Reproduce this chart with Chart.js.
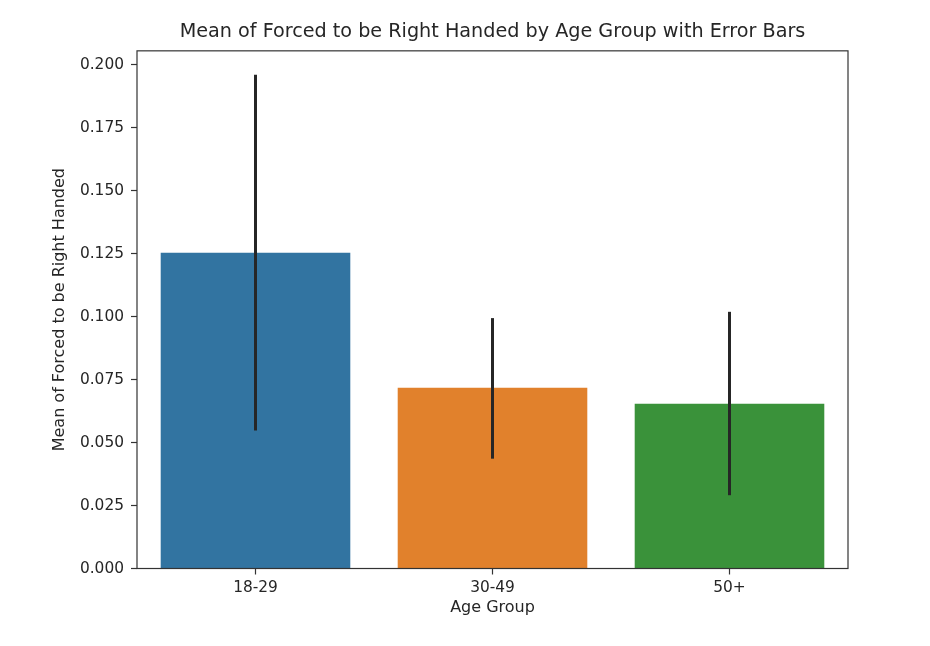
<!DOCTYPE html>
<html>
<head>
<meta charset="utf-8">
<script src="https://cdn.jsdelivr.net/npm/chart.js@4"></script>
<style>
  html, body { margin: 0; padding: 0; background: #fff; }
  #wrap { width: 930px; height: 646px; }
</style>
</head>
<body>
<div id="wrap"><canvas id="chart"></canvas></div>
<script>
const ageGroups = ["18-29", "30-49", "50+"];
const meanValues = [0.1253, 0.0718, 0.0654];
const errLow = [0.0548, 0.0436, 0.0291];
const errHigh = [0.1960, 0.0994, 0.1019];
const barColors = ["#3274a1", "#e1812c", "#3a923a"];

const FONT = "'DejaVu Sans', sans-serif";
const INK = "#262626";

// error bars, drawn through the chart scales
const errorBars = {
  id: "errorBars",
  afterDatasetsDraw(chart) {
    const { ctx, scales: { x, y } } = chart;
    ctx.save();
    ctx.strokeStyle = "#262626";
    ctx.lineWidth = 3;
    ageGroups.forEach((g, i) => {
      const px = x.getPixelForValue(i);
      ctx.beginPath();
      ctx.moveTo(px, y.getPixelForValue(errLow[i]));
      ctx.lineTo(px, y.getPixelForValue(errHigh[i]));
      ctx.stroke();
    });
    ctx.restore();
  }
};

// four spines around the axes box
const frame = {
  id: "frame",
  afterDraw(chart) {
    const { ctx, chartArea: a } = chart;
    ctx.save();
    ctx.strokeStyle = "#333";
    ctx.lineWidth = 1.2;
    ctx.strokeRect(a.left, a.top, a.right - a.left, a.bottom - a.top);
    ctx.restore();
  }
};

new Chart(document.getElementById("chart"), {
  type: "bar",
  data: {
    labels: ageGroups,
    datasets: [{
      data: meanValues,
      backgroundColor: barColors,
      barPercentage: 0.8,
      categoryPercentage: 1.0
    }]
  },
  options: {
    responsive: true,
    maintainAspectRatio: false,
    animation: false,
    layout: { padding: { left: 0, right: 82, top: 0, bottom: 0 } },
    plugins: {
      legend: { display: false },
      tooltip: { enabled: false },
      title: {
        display: true,
        text: "Mean of Forced to be Right Handed by Age Group with Error Bars",
        fullSize: false,
        color: INK,
        font: { family: FONT, size: 19.2, weight: "normal", lineHeight: 1.2 },
        padding: { top: 20.5, bottom: 7.3 }
      }
    },
    scales: {
      x: {
        offset: true,
        grid: { display: true, drawOnChartArea: false, offset: false, tickLength: 6, tickColor: "#333", tickWidth: 1.2 },
        border: { display: false },
        ticks: { color: INK, padding: 4, font: { family: FONT, size: 15.4 } },
        title: {
          display: true,
          text: "Age Group",
          color: INK,
          font: { family: FONT, size: 16, lineHeight: 1.2 },
          padding: { top: 0, bottom: 28.4 }
        },
        afterFit(scale) { scale.height = 77.5; }
      },
      y: {
        min: 0,
        max: 0.2055,
        grid: { display: true, drawOnChartArea: false, tickLength: 6, tickColor: "#333", tickWidth: 1.2 },
        border: { display: false },
        ticks: {
          stepSize: 0.025,
          includeBounds: false,
          color: INK,
          padding: 7,
          font: { family: FONT, size: 15.4 },
          callback: (v) => v.toFixed(3)
        },
        title: {
          display: true,
          text: "Mean of Forced to be Right Handed",
          color: INK,
          font: { family: FONT, size: 16, lineHeight: 1.2 },
          padding: { top: 50.4, bottom: 0 }
        },
        afterFit(scale) { scale.width = 137; }
      }
    }
  },
  plugins: [errorBars, frame]
});
</script>
</body>
</html>
